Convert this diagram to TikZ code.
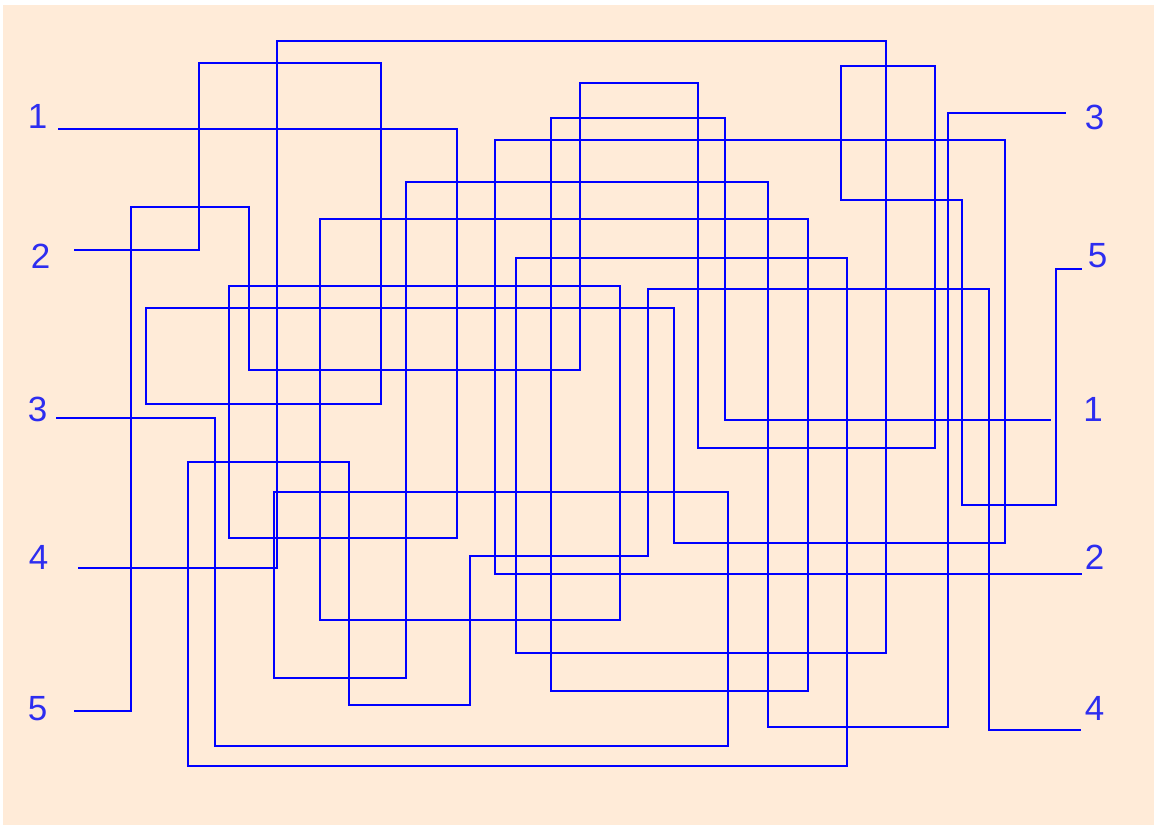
\documentclass[tikz,border=0pt]{standalone}
\usepackage{fontspec}
\setmainfont{Liberation Sans}
\definecolor{peach}{RGB}{255,235,216}
\definecolor{wire}{RGB}{0,0,255}
\definecolor{labelblue}{RGB}{45,45,240}
\begin{document}
\begin{tikzpicture}[x=1pt,y=-1pt,
  wirepath/.style={draw=wire,line width=2.4pt,line join=miter},
  numlabel/.style={inner sep=0pt,text=labelblue,font=\fontsize{35}{35}\selectfont}]
\useasboundingbox (0,0) rectangle (1154,825);
\fill[white] (0,0) rectangle (1154,825);
\fill[peach] (3,5) rectangle (1154,825);
% labels
\node[numlabel] (L1) at (37.5,116) {1};
\node[numlabel] (L2) at (40.5,256) {2};
\node[numlabel] (L3) at (37.5,409) {3};
\node[numlabel] (L4) at (38.5,557) {4};
\node[numlabel] (L5) at (37.5,709) {5};
\node[numlabel] (R3) at (1094.5,117) {3};
\node[numlabel] (R5) at (1097.5,256) {5};
\node[numlabel] (R1) at (1093,409.5) {1};
\node[numlabel] (R2) at (1094.5,557) {2};
\node[numlabel] (R4) at (1094.5,708) {4};
% wire ends
\coordinate (a1) at (58,129);   \coordinate (b1) at (1051,420);
\coordinate (a2) at (74,250);   \coordinate (b2) at (1082,574);
\coordinate (a3) at (56,418);   \coordinate (b3) at (1066,113);
\coordinate (a4) at (78,568);   \coordinate (b4) at (1081,730);
\coordinate (a5) at (74,711);   \coordinate (b5) at (1082,269);
% path 1
\draw[wirepath] (a1) -- (457,129) -- (457,538) -- (229,538) -- (229,286) -- (620,286)
  -- (620,620) -- (320,620) -- (320,219) -- (808,219) -- (808,691) -- (551,691)
  -- (551,118) -- (725,118) -- (725,420) -- (b1);
% path 2
\draw[wirepath] (a2) -- (199,250) -- (199,63) -- (381,63) -- (381,404) -- (146,404)
  -- (146,308) -- (674,308) -- (674,543) -- (1005,543) -- (1005,140) -- (495,140)
  -- (495,574) -- (b2);
% path 3
\draw[wirepath] (a3) -- (215,418) -- (215,746) -- (728,746) -- (728,492) -- (274,492)
  -- (274,678) -- (406,678) -- (406,182) -- (768,182) -- (768,727) -- (948,727)
  -- (948,113) -- (b3);
% path 4
\draw[wirepath] (a4) -- (277,568) -- (277,41) -- (886,41) -- (886,653) -- (516,653)
  -- (516,258) -- (847,258) -- (847,766) -- (188,766) -- (188,462) -- (349,462)
  -- (349,705) -- (470,705) -- (470,556) -- (648,556) -- (648,289) -- (989,289)
  -- (989,730) -- (b4);
% path 5
\draw[wirepath] (a5) -- (131,711) -- (131,207) -- (249,207) -- (249,370) -- (580,370)
  -- (580,83) -- (698,83) -- (698,448) -- (935,448) -- (935,66) -- (841,66)
  -- (841,200) -- (962,200) -- (962,505) -- (1056,505) -- (1056,269) -- (b5);
\end{tikzpicture}
\end{document}
